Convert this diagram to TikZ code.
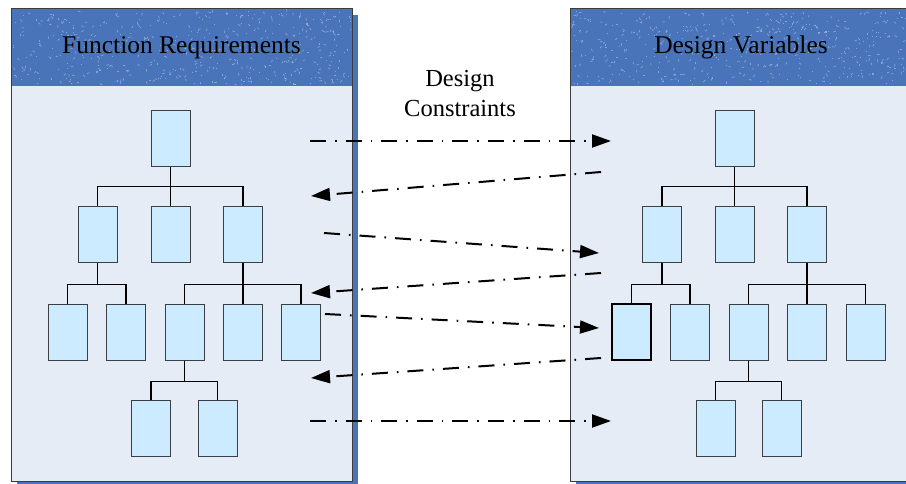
\documentclass[tikz,border=0pt]{standalone}
\usepackage{fontspec}
\setmainfont{Liberation Serif}
\usetikzlibrary{arrows.meta,calc}
\definecolor{hdrblue}{HTML}{4A74BA}
\definecolor{panelbg}{HTML}{E6ECF6}
\definecolor{boxfill}{HTML}{CCEBFF}
\definecolor{boxline}{HTML}{3A3F45}
\definecolor{frameline}{HTML}{3C3C3C}
\begin{document}
\begin{tikzpicture}[x=1pt,y=-1pt,
  hdrtext/.style={font=\fontsize{25.5}{30}\selectfont, anchor=base, inner sep=0pt},
  midtext/.style={font=\fontsize{24.5}{30}\selectfont, anchor=base, inner sep=0pt},
  fbox/.style={draw=boxline, fill=boxfill, line width=1pt, minimum width=39pt,
               minimum height=56pt, inner sep=0pt},
  selbox/.style={fbox, draw=black, line width=2pt},
  tree/.style={draw=black, line width=1.2pt},
  flow/.style={draw=black, line width=2pt,
               dash pattern=on 16pt off 9pt on 1.6pt off 9pt,
               -{Triangle[length=19pt,width=13pt]}},
  speck/.style={white, opacity=0.35}
]
\useasboundingbox (0,0) rectangle (906,484);
\clip (0,0) rectangle (906,484);

% ---------- panels ----------
\pgfmathsetseed{17}
\foreach \px/\pw in {11/341, 570/342}{
  \fill[hdrblue] (\px+6,15) rectangle (\px+\pw+6,490);
  \fill[panelbg] (\px,86) rectangle (\px+\pw,481);
  \fill[hdrblue] (\px,9) rectangle (\px+\pw,86);
  % speckled header surface
  \foreach \i in {1,...,260}{
    \pgfmathsetmacro\sx{\px+2+(\pw-4)*rnd}
    \pgfmathsetmacro\sy{11+73*rnd}
    \pgfmathsetmacro\sa{360*rnd}
    \draw[speck, line width=0.7pt] (\sx,\sy) -- ++(\sa:2.5);
  }
  \foreach \i in {1,...,220}{
    \pgfmathsetmacro\sx{\px+2+(\pw-4)*rnd}
    \pgfmathsetmacro\sy{11+73*rnd}
    \fill[speck] (\sx,\sy) rectangle ++(1.1,1.1);
  }
  \draw[frameline, line width=1pt] (\px,9) rectangle (\px+\pw,481);
}

\node[hdrtext] (frtitle) at (181.5,54) {Function Requirements};
\node[hdrtext] (dvtitle) at (741,54) {Design Variables};
\node[midtext] (dctop) at (460,87) {Design};
\node[midtext] (dcbot) at (460,117) {Constraints};

% ---------- function requirement tree ----------
\node[fbox] (L1)  at (170.5,139) {};
\node[fbox] (L2a) at (97.5,235) {};
\node[fbox] (L2b) at (170.5,235) {};
\node[fbox] (L2c) at (243,235) {};
\node[fbox] (L3a) at (67.5,332) {};
\node[fbox] (L3b) at (126,332) {};
\node[fbox] (L3c) at (184.5,332) {};
\node[fbox] (L3d) at (243,332) {};
\node[fbox] (L3e) at (301,332) {};
\node[fbox] (L4a) at (151,428) {};
\node[fbox] (L4b) at (217.5,428) {};

\foreach \c in {L2a,L2b,L2c}{\draw[tree] (L1.south) -- ++(0,19) -| (\c.north);}
\foreach \c in {L3a,L3b}{\draw[tree] (L2a.south) -- ++(0,21) -| (\c.north);}
\foreach \c in {L3c,L3d,L3e}{\draw[tree] (L2c.south) -- ++(0,21) -| (\c.north);}
\foreach \c in {L4a,L4b}{\draw[tree] (L3c.south) -- ++(0,21) -| (\c.north);}

% ---------- design variable tree ----------
\node[fbox] (R1)  at (734.5,139) {};
\node[fbox] (R2a) at (662,235) {};
\node[fbox] (R2b) at (734.5,235) {};
\node[fbox] (R2c) at (807,235) {};
\node[selbox] (R3a) at (631.5,332) {};
\node[fbox] (R3b) at (690,332) {};
\node[fbox] (R3c) at (748.5,332) {};
\node[fbox] (R3d) at (807,332) {};
\node[fbox] (R3e) at (865.5,332) {};
\node[fbox] (R4a) at (715.5,428) {};
\node[fbox] (R4b) at (781.5,428) {};

\foreach \c in {R2a,R2b,R2c}{\draw[tree] (R1.south) -- ++(0,19) -| (\c.north);}
\foreach \c in {R3a,R3b}{\draw[tree] (R2a.south) -- ++(0,21) -| (\c.north);}
\foreach \c in {R3c,R3d,R3e}{\draw[tree] (R2c.south) -- ++(0,21) -| (\c.north);}
\foreach \c in {R4a,R4b}{\draw[tree] (R3c.south) -- ++(0,21) -| (\c.north);}

% ---------- constraint exchange arrows ----------
\coordinate (a1s) at (310,141); \coordinate (a1e) at (611,141);
\coordinate (a2s) at (601,172); \coordinate (a2e) at (311,196);
\coordinate (a3s) at (324,233); \coordinate (a3e) at (599,253);
\coordinate (a4s) at (601,273); \coordinate (a4e) at (311,293);
\coordinate (a5s) at (325,314); \coordinate (a5e) at (599,328);
\coordinate (a6s) at (601,358); \coordinate (a6e) at (311,378);
\coordinate (a7s) at (310,421); \coordinate (a7e) at (611,421);
\foreach \k in {1,...,7}{\draw[flow] (a\k s) -- (a\k e);}
\end{tikzpicture}
\end{document}
